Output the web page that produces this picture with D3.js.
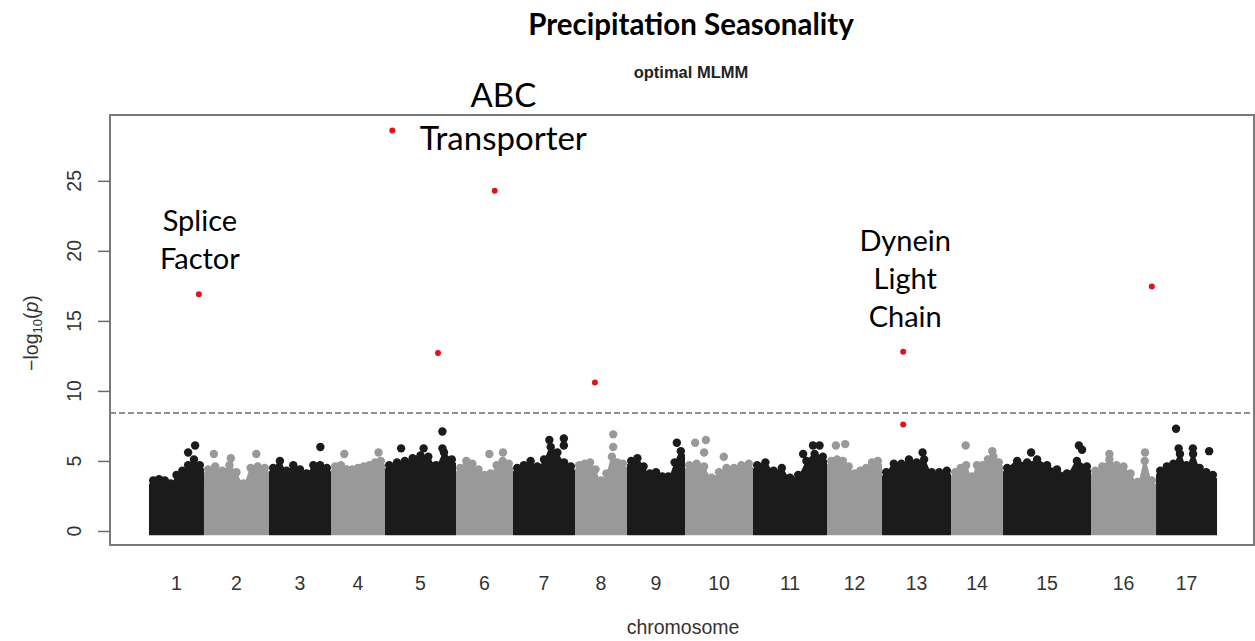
<!DOCTYPE html>
<meta charset="utf-8">
<title>Precipitation Seasonality</title>
<style>

body {
  margin: 0;
  background: #fff;
}

.axis-text {
  font: 19.5px "Liberation Sans", Arial, sans-serif;
  fill: #333;
}

.note {
  font-family: Lato, "Open Sans", sans-serif;
  fill: #000;
}

</style>
<svg width="1255" height="641"></svg>
<script src="https://cdn.jsdelivr.net/npm/d3@7"></script>
<script>

var chromNames = ["1", "2", "3", "4", "5", "6", "7", "8", "9", "10",
                  "11", "12", "13", "14", "15", "16", "17"];

// relative chromosome lengths (arbitrary units)
var chromLength = [55, 65, 62, 54, 71, 57, 62, 52, 58, 68, 74, 55, 69, 52, 88, 65, 61];

// top edge of the SNP cloud, read at 9 evenly spaced spots per chromosome
var profile = [
  [3.9, 4.0, 3.9, 3.7, 4.3, 4.6, 5.0, 5.4, 5.0],
  [4.7, 4.9, 4.6, 5.0, 4.5, 3.7, 4.8, 4.9, 4.8],
  [4.8, 5.3, 4.6, 5.0, 4.7, 4.4, 5.0, 5.0, 4.8],
  [4.9, 5.0, 4.7, 4.7, 4.8, 4.9, 5.0, 5.2, 5.3],
  [5.0, 5.2, 5.3, 5.5, 5.7, 5.6, 5.0, 5.9, 5.4],
  [4.8, 5.3, 5.1, 4.7, 4.3, 4.4, 5.0, 5.3, 5.1],
  [4.8, 5.0, 5.3, 4.9, 5.4, 6.3, 5.9, 5.2, 4.9],
  [5.0, 5.1, 5.2, 4.7, 3.9, 4.4, 5.6, 5.2, 5.1],
  [5.3, 5.5, 4.9, 4.4, 4.5, 4.2, 4.2, 5.2, 6.0],
  [5.0, 5.1, 4.9, 4.1, 4.5, 4.8, 4.8, 5.0, 5.1],
  [5.0, 5.2, 4.6, 4.8, 4.1, 4.3, 5.3, 5.8, 5.6],
  [5.3, 5.4, 5.3, 4.9, 4.4, 4.6, 4.8, 5.2, 5.3],
  [4.5, 5.1, 5.1, 5.4, 5.2, 5.4, 4.5, 4.5, 4.6],
  [4.5, 4.8, 5.0, 4.2, 5.0, 5.0, 5.4, 5.6, 5.2],
  [4.8, 5.3, 5.2, 5.4, 5.0, 4.7, 4.4, 5.3, 4.9],
  [4.6, 4.9, 5.4, 5.0, 4.9, 4.4, 3.8, 5.3, 3.9],
  [4.6, 4.9, 5.1, 5.8, 5.0, 5.8, 4.8, 4.5, 4.3]
];

// single points standing above the cloud
var outChrom = [1, 1, 2, 2, 2, 3, 4, 4, 5, 5, 5, 5, 6, 6, 7, 7, 7, 8, 8, 9,
                10, 10, 10, 10, 11, 11, 11, 12, 12, 13, 14, 14, 15, 15, 15,
                16, 16, 17, 17, 17, 17];
var outPos = [0.9, 0.75, 0.1, 0.4, 0.85, 0.88, 0.2, 0.95, 0.19, 0.85, 0.85, 0.55,
              0.6, 0.88, 0.6, 0.87, 0.87, 0.78, 0.78, 0.92,
              0.1, 0.28, 0.25, 0.58, 0.85, 0.95, 0.7, 0.1, 0.3, 0.6, 0.24, 0.85,
              0.9, 0.94, 0.3, 0.25, 0.88, 0.3, 0.93, 0.35, 0.62];
var outValue = [6.1, 5.6, 5.5, 5.2, 5.5, 6.0, 5.5, 5.6, 5.9, 7.1, 5.9, 5.9,
                5.5, 5.6, 6.5, 6.6, 6.1, 6.9, 6.0, 6.3,
                6.3, 6.5, 5.6, 5.3, 6.1, 6.1, 5.5, 6.1, 6.2, 5.6, 6.1, 5.7,
                6.1, 5.8, 5.6, 5.5, 5.6, 7.3, 5.7, 5.9, 5.9];

// significant hits (red)
var hitChrom = [1, 5, 5, 6, 8, 13, 13, 16];
var hitPos = [0.98, 0.05, 0.78, 0.71, 0.36, 0.28, 0.28, 1.0];
var hitValue = [16.9, 28.6, 12.7, 24.3, 10.6, 12.8, 7.6, 17.45];

var threshold = 8.43;
var yTicks = [0, 5, 10, 15, 20, 25];

var title = "Precipitation Seasonality";
var subtitle = "optimal MLMM";

(function () {

var svg = d3.select("svg"),
    plotL = 110, plotR = 1254, plotT = 115, plotB = 545,
    dotR = 4.2;

var total = d3.sum(chromLength);
var starts = chromLength.map(function (d, i) { return d3.sum(chromLength.slice(0, i)); });

var x = d3.scaleLinear()
    .domain([-0.0365 * total, total * 1.0346])
    .range([plotL, plotR]);

var y = d3.scaleLinear()
    .domain([-1, 29.7])
    .range([plotB, plotT]);

var rU = dotR / (x(1) - x(0));

function posX(c, frac) {
  var i = c - 1;
  return x(starts[i] + rU + frac * (chromLength[i] - 2 * rU));
}

var colorOf = function (i) { return i % 2 === 0 ? "#1b1b1b" : "#999999"; };

// threshold
svg.append("line")
    .attr("x1", plotL).attr("x2", plotR)
    .attr("y1", y(threshold)).attr("y2", y(threshold))
    .attr("stroke", "#6f6f6f")
    .attr("stroke-width", 1.5)
    .attr("stroke-dasharray", "6,3");

// point clouds
var area = d3.area()
    .x(function (d) { return d.x; })
    .y0(y(0) + dotR)
    .y1(function (d) { return y(d.v) + dotR; })
    .curve(d3.curveMonotoneX);

var chrom = svg.append("g")
  .selectAll("g")
    .data(profile)
  .enter().append("g")
    .attr("fill", function (d, i) { return colorOf(i); });

chrom.append("path")
    .attr("d", function (p, i) {
      var pts = p.map(function (v, k) {
        return {x: posX(i + 1, k / (p.length - 1)), v: v};
      });
      pts.unshift({x: x(starts[i]), v: p[0] - 0.25});
      pts.push({x: x(starts[i] + chromLength[i]), v: p[p.length - 1] - 0.25});
      return area(pts);
    });

chrom.selectAll("circle")
    .data(function (p, i) {
      return p.map(function (v, k) { return {c: i + 1, f: k / (p.length - 1), v: v}; });
    })
  .enter().append("circle")
    .attr("cx", function (d) { return posX(d.c, d.f); })
    .attr("cy", function (d) { return y(d.v) + dotR; })
    .attr("r", dotR);

svg.append("g")
  .selectAll("circle")
    .data(outValue)
  .enter().append("circle")
    .attr("cx", function (d, i) { return posX(outChrom[i], outPos[i]); })
    .attr("cy", function (d) { return y(d); })
    .attr("r", dotR)
    .attr("fill", function (d, i) { return colorOf(outChrom[i] - 1); });

svg.append("g")
  .selectAll("circle")
    .data(hitValue)
  .enter().append("circle")
    .attr("cx", function (d, i) { return posX(hitChrom[i], hitPos[i]); })
    .attr("cy", function (d) { return y(d); })
    .attr("r", 3)
    .attr("fill", "#e0131c");

// frame
svg.append("rect")
    .attr("x", plotL).attr("y", plotT)
    .attr("width", plotR - plotL).attr("height", plotB - plotT)
    .attr("fill", "none")
    .attr("stroke", "#7a7a7a")
    .attr("stroke-width", 2);

// y axis
var yAxis = svg.append("g")
    .attr("transform", "translate(" + plotL + ",0)")
    .call(d3.axisLeft(y).tickValues(yTicks).tickSize(12).tickFormat(""));
yAxis.select(".domain").remove();
yAxis.selectAll(".tick line").attr("stroke", "#6a6a6a").attr("stroke-width", 1.5);

svg.append("g")
  .selectAll("text")
    .data(yTicks)
  .enter().append("text")
    .attr("class", "axis-text")
    .attr("transform", function (d) { return "translate(81," + y(d) + ") rotate(-90)"; })
    .attr("text-anchor", "middle")
    .text(function (d) { return d; });

var yTitle = svg.append("text")
    .attr("class", "axis-text")
    .attr("transform", "translate(38,333) rotate(-90)")
    .attr("text-anchor", "middle");
yTitle.append("tspan").text("\u2212log");
yTitle.append("tspan").attr("font-size", "13px").attr("dy", 4).text("10");
yTitle.append("tspan").attr("dy", -4).text("(");
yTitle.append("tspan").attr("font-style", "italic").text("p");
yTitle.append("tspan").text(")");

// x labels
svg.append("g")
  .selectAll("text")
    .data(chromNames)
  .enter().append("text")
    .attr("class", "axis-text")
    .attr("x", function (d, i) { return x(starts[i] + chromLength[i] / 2); })
    .attr("y", 590)
    .attr("text-anchor", "middle")
    .text(function (d) { return d; });

svg.append("text")
    .attr("class", "axis-text")
    .attr("x", 683)
    .attr("y", 634)
    .attr("text-anchor", "middle")
    .text("chromosome");

// titles
svg.append("text")
    .attr("class", "note")
    .attr("x", 691).attr("y", 35)
    .attr("text-anchor", "middle")
    .style("font-size", "29.5px")
    .style("font-weight", "bold")
    .text(title);

svg.append("text")
    .attr("x", 691).attr("y", 78)
    .attr("text-anchor", "middle")
    .style("font", "bold 16.5px 'Liberation Sans', Arial, sans-serif")
    .style("fill", "#222")
    .text(subtitle);

// gene notes, placed relative to the hit they name
function note(h, lines, dx, dy, size, step) {
  var cx = posX(hitChrom[h], hitPos[h]) + dx,
      cy = y(hitValue[h]) + dy;
  svg.append("g")
    .selectAll("text")
      .data(lines)
    .enter().append("text")
      .attr("class", "note")
      .attr("x", cx)
      .attr("y", function (d, i) { return cy - (lines.length - 1 - i) * step; })
      .attr("text-anchor", "middle")
      .style("font-size", size + "px")
      .text(function (d) { return d; });
}

note(0, ["Splice", "Factor"], 1, -25, 29, 38);
note(1, ["ABC", "Transporter"], 111, 20, 33, 43);
note(5, ["Dynein", "Light", "Chain"], 2, -25, 29, 38);

})();

</script>
